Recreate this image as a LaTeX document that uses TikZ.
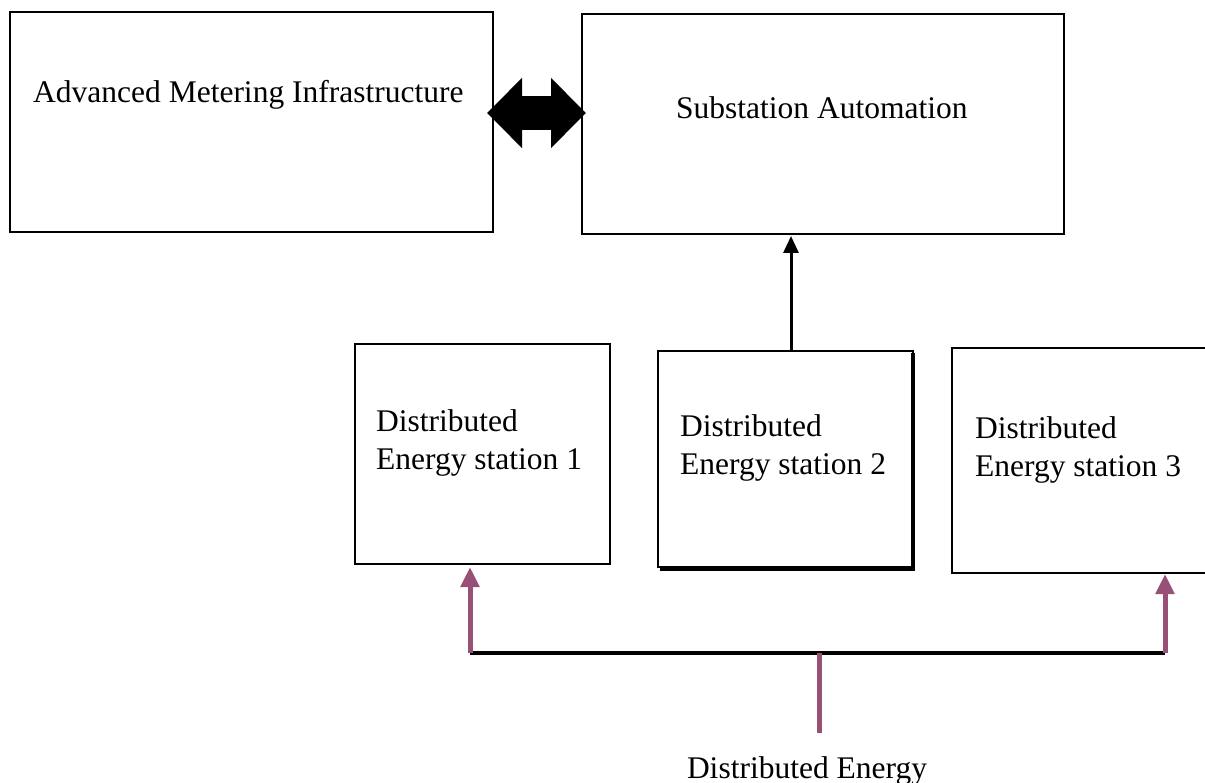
\documentclass[tikz,border=0pt]{standalone}
\usepackage{fontspec}
\setmainfont{Liberation Serif}
\usetikzlibrary{arrows.meta}
\definecolor{energy}{RGB}{152,80,118}
\begin{document}
\begin{tikzpicture}[x=1pt,y=-1pt,
  box/.style={draw=black,line width=2pt,fill=white},
  lbl/.style={font=\fontsize{31.5}{37.5}\selectfont,inner sep=0pt,align=left,anchor=base west},
  uparrow/.style={line width=3pt,-{Triangle[length=17pt,width=15pt]}},
  feed/.style={draw=energy,line width=5pt,-{Triangle[length=20pt,width=18pt]}},
  bus/.style={line width=3.5pt}]
\useasboundingbox (0,0) rectangle (1205,783);
% boxes
\path[box] (10,12) rectangle (493,232);
\path[box] (582,14) rectangle (1064,234);
\path[box] (355,344) rectangle (610,564);
\path[box] (658,351) rectangle (913,567);
\draw[line width=4pt] (913,353) -- (913,569) -- (660,569);
\path[box] (952,348) rectangle (1215,573);
% named anchors
\coordinate (amiE) at (493,113);
\coordinate (saW) at (582,113);
\coordinate (saS) at (791,236);
\coordinate (d2N) at (791,351);
\coordinate (d1S) at (470,567);
\coordinate (d3S) at (1165,574);
\coordinate (busL) at (470,653);
\coordinate (busM) at (819,653);
\coordinate (busR) at (1165,653);
\coordinate (src) at (819,733);
% texts
\node[lbl] (tami) at (33,103) {Advanced Metering Infrastructure};
\node[lbl] (tsa) at (676,119) {Substation Automation};
\node[lbl] (td1) at (376,469) {Distributed\\Energy station 1};
\node[lbl] (td2) at (680,474) {Distributed\\Energy station 2};
\node[lbl] (td3) at (975,476) {Distributed\\Energy station 3};
\node[lbl,anchor=base] (tde) at (807,778) {Distributed Energy};
% connectors
\draw[line width=34pt,{Triangle[length=35pt,width=68pt]}-{Triangle[length=35pt,width=68pt]},shorten <=-6pt,shorten >=-4pt] (amiE) -- (saW);
\draw[uparrow] (d2N) -- (saS);
\draw[bus] (busL) -- (busR);
\draw[feed] (busL) -- (d1S);
\draw[feed] (busR) -- (d3S);
\draw[draw=energy,line width=5pt] (busM) -- (src);
\end{tikzpicture}
\end{document}
